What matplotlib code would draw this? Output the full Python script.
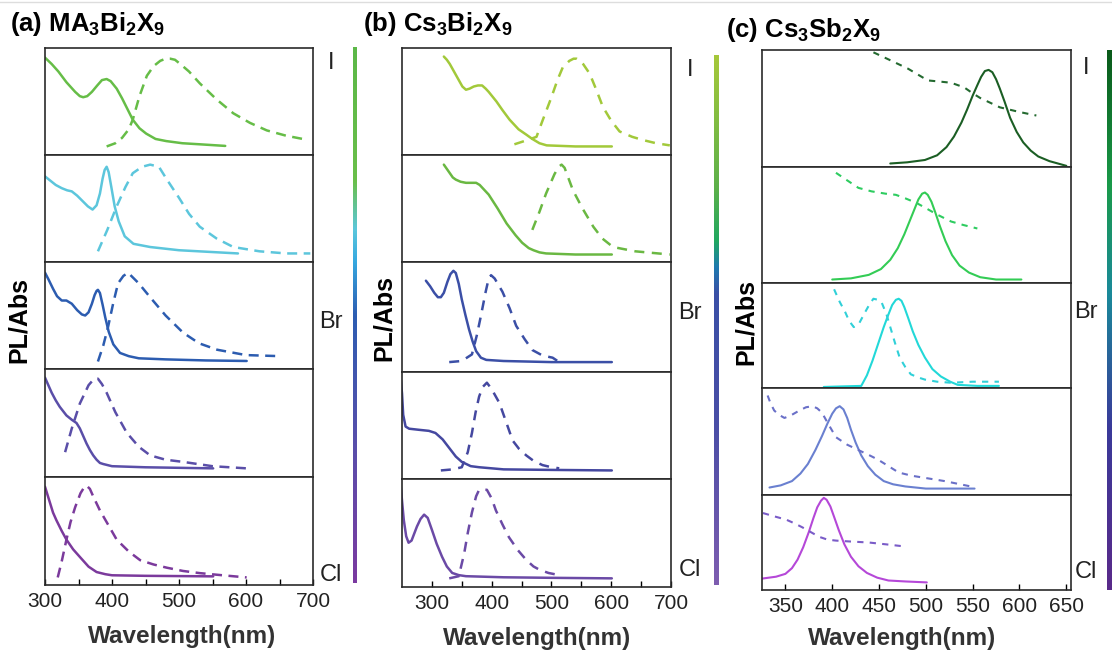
import matplotlib.pyplot as plt
import numpy as np
from matplotlib.colors import LinearSegmentedColormap
from matplotlib.lines import Line2D

plt.rcParams['font.family'] = ['Liberation Sans', 'DejaVu Sans']
plt.rcParams['mathtext.fontset'] = 'custom'
plt.rcParams['mathtext.rm'] = 'Liberation Sans'
plt.rcParams['mathtext.bf'] = 'Liberation Sans:bold'

# ---- (a) MA3Bi2X9 : solid = absorption, dashed = PL ----
a_I_abs_nm = [300, 310, 320, 332, 345, 352, 357, 363, 370, 378, 385, 392, 398, 407, 415, 423, 431, 441, 451, 465, 481, 505, 531, 569]
a_I_abs = [0.91, 0.85, 0.78, 0.68, 0.59, 0.55, 0.54, 0.55, 0.59, 0.65, 0.70, 0.71, 0.69, 0.62, 0.53, 0.43, 0.33, 0.25, 0.20, 0.15, 0.13, 0.11, 0.10, 0.085]
a_I_pl_nm = [392, 405, 415, 425, 431, 441, 452, 462, 472, 480, 487, 494, 502, 515, 531, 556, 581, 606, 631, 660, 693]
a_I_pl = [0.08, 0.11, 0.16, 0.24, 0.33, 0.55, 0.74, 0.83, 0.88, 0.90, 0.90, 0.89, 0.85, 0.78, 0.67, 0.52, 0.39, 0.30, 0.23, 0.18, 0.14]

a_Br1_abs_nm = [300, 308, 316, 325, 333, 340, 348, 356, 364, 371, 377, 382, 386, 389, 392, 395, 399, 404, 410, 419, 432, 457, 500, 588]
a_Br1_abs = [0.80, 0.76, 0.72, 0.69, 0.67, 0.66, 0.62, 0.57, 0.52, 0.49, 0.53, 0.64, 0.78, 0.86, 0.89, 0.84, 0.70, 0.52, 0.38, 0.24, 0.17, 0.14, 0.11, 0.08]
a_Br1_pl_nm = [379, 393, 407, 420, 431, 445, 457, 470, 482, 500, 515, 531, 556, 581, 620, 660, 696]
a_Br1_pl = [0.10, 0.30, 0.52, 0.70, 0.83, 0.89, 0.91, 0.89, 0.77, 0.60, 0.45, 0.33, 0.22, 0.14, 0.10, 0.08, 0.08]

a_Br_abs_nm = [300, 305, 312, 318, 325, 332, 340, 348, 355, 360, 365, 370, 374, 377, 379, 382, 386, 390, 395, 402, 412, 425, 440, 480, 540, 601]
a_Br_abs = [0.90, 0.84, 0.75, 0.68, 0.64, 0.64, 0.61, 0.55, 0.51, 0.50, 0.53, 0.61, 0.69, 0.73, 0.74, 0.71, 0.60, 0.48, 0.35, 0.23, 0.15, 0.12, 0.10, 0.09, 0.08, 0.075]
a_Br_pl_nm = [379, 387, 394, 402, 409, 417, 424, 440, 457, 480, 506, 530, 557, 600, 651]
a_Br_pl = [0.07, 0.22, 0.39, 0.62, 0.80, 0.87, 0.90, 0.80, 0.67, 0.50, 0.34, 0.24, 0.18, 0.13, 0.12]

a_Cl1_abs_nm = [300, 305, 310, 316, 322, 332, 340, 347, 352, 357, 362, 367, 372, 377, 382, 387, 400, 450, 551]
a_Cl1_abs = [0.92, 0.85, 0.78, 0.71, 0.65, 0.57, 0.53, 0.50, 0.45, 0.38, 0.31, 0.25, 0.20, 0.16, 0.13, 0.12, 0.10, 0.09, 0.08]
a_Cl1_pl_nm = [330, 340, 352, 365, 372, 379, 385, 392, 405, 422, 440, 457, 480, 506, 550, 601]
a_Cl1_pl = [0.23, 0.45, 0.68, 0.85, 0.90, 0.91, 0.86, 0.78, 0.60, 0.41, 0.28, 0.20, 0.16, 0.14, 0.10, 0.08]

a_Cl_abs_nm = [300, 304, 308, 312, 317, 325, 332, 342, 352, 365, 377, 390, 400, 450, 551]
a_Cl_abs = [0.91, 0.83, 0.75, 0.67, 0.60, 0.50, 0.42, 0.33, 0.26, 0.17, 0.12, 0.10, 0.09, 0.085, 0.08]
a_Cl_pl_nm = [319, 325, 332, 338, 345, 353, 358, 362, 367, 372, 382, 395, 407, 425, 442, 462, 482, 506, 531, 565, 601]
a_Cl_pl = [0.07, 0.22, 0.42, 0.58, 0.72, 0.85, 0.90, 0.92, 0.89, 0.82, 0.69, 0.55, 0.42, 0.31, 0.23, 0.19, 0.16, 0.13, 0.11, 0.09, 0.07]

# ---- (b) Cs3Bi2X9 ----
b_I_abs_nm = [320, 325, 330, 338, 345, 351, 357, 363, 370, 377, 384, 390, 395, 408, 418, 430, 445, 458, 468, 480, 492, 540, 601]
b_I_abs = [0.92, 0.89, 0.85, 0.77, 0.70, 0.64, 0.61, 0.62, 0.64, 0.65, 0.65, 0.62, 0.59, 0.50, 0.42, 0.33, 0.24, 0.19, 0.15, 0.11, 0.09, 0.08, 0.08]
b_I_pl_nm = [438, 460, 475, 485, 500, 510, 519, 530, 537, 542, 548, 553, 564, 575, 586, 600, 614, 635, 653, 675, 698]
b_I_pl = [0.10, 0.14, 0.17, 0.32, 0.54, 0.70, 0.82, 0.88, 0.90, 0.90, 0.88, 0.85, 0.76, 0.61, 0.45, 0.32, 0.22, 0.17, 0.14, 0.11, 0.09]

b_Br1_abs_nm = [320, 325, 330, 335, 340, 348, 357, 366, 374, 380, 385, 395, 410, 425, 440, 451, 462, 470, 480, 491, 540, 601]
b_Br1_abs = [0.91, 0.87, 0.83, 0.79, 0.77, 0.75, 0.74, 0.74, 0.74, 0.72, 0.69, 0.63, 0.50, 0.36, 0.25, 0.18, 0.13, 0.11, 0.09, 0.08, 0.07, 0.07]
b_Br1_pl_nm = [468, 480, 491, 505, 512, 517, 522, 526, 536, 552, 570, 585, 603, 640, 698]
b_Br1_pl = [0.30, 0.47, 0.64, 0.82, 0.89, 0.91, 0.88, 0.82, 0.67, 0.50, 0.33, 0.22, 0.14, 0.10, 0.07]

b_Br_abs_nm = [290, 297, 304, 310, 315, 320, 326, 331, 336, 340, 345, 350, 356, 362, 368, 374, 382, 391, 420, 500, 601]
b_Br_abs = [0.83, 0.78, 0.72, 0.68, 0.68, 0.72, 0.82, 0.89, 0.92, 0.90, 0.80, 0.66, 0.52, 0.39, 0.28, 0.19, 0.13, 0.11, 0.10, 0.09, 0.09]
b_Br_pl_nm = [329, 350, 367, 375, 382, 390, 395, 399, 405, 418, 430, 441, 455, 468, 485, 502, 513]
b_Br_pl = [0.09, 0.10, 0.16, 0.33, 0.51, 0.73, 0.85, 0.88, 0.85, 0.73, 0.58, 0.42, 0.30, 0.20, 0.15, 0.13, 0.09]

b_Cl1_abs_nm = [248, 250, 252, 256, 262, 278, 295, 306, 318, 329, 340, 350, 365, 379, 420, 500, 601]
b_Cl1_abs = [0.93, 0.80, 0.60, 0.49, 0.47, 0.46, 0.45, 0.43, 0.37, 0.29, 0.21, 0.16, 0.12, 0.11, 0.09, 0.085, 0.08]
b_Cl1_pl_nm = [315, 335, 350, 360, 367, 373, 379, 385, 392, 400, 413, 425, 435, 446, 458, 470, 485, 500, 513]
b_Cl1_pl = [0.08, 0.09, 0.11, 0.25, 0.43, 0.62, 0.77, 0.86, 0.90, 0.84, 0.71, 0.52, 0.36, 0.28, 0.22, 0.17, 0.13, 0.11, 0.10]

b_Cl_abs_nm = [248, 250, 253, 257, 261, 266, 275, 281, 287, 293, 300, 308, 317, 325, 334, 345, 357, 420, 500, 601]
b_Cl_abs = [0.93, 0.80, 0.62, 0.47, 0.41, 0.43, 0.56, 0.63, 0.67, 0.64, 0.53, 0.40, 0.28, 0.19, 0.13, 0.11, 0.10, 0.09, 0.085, 0.08]
b_Cl_pl_nm = [329, 345, 354, 360, 367, 374, 379, 392, 400, 407, 418, 429, 444, 458, 470, 480, 495, 513]
b_Cl_pl = [0.08, 0.10, 0.31, 0.50, 0.69, 0.84, 0.90, 0.90, 0.82, 0.71, 0.58, 0.46, 0.34, 0.25, 0.19, 0.16, 0.13, 0.11]

# ---- (c) Cs3Sb2X9 : solid = PL, dashed = absorption ----
c_I_pl_nm = [462, 480, 499, 512, 522, 530, 538, 544, 550, 555, 559, 563, 567, 571, 575, 579, 584, 590, 597, 604, 612, 620, 632, 650]
c_I_pl = [0.03, 0.04, 0.06, 0.10, 0.17, 0.26, 0.38, 0.49, 0.61, 0.70, 0.77, 0.82, 0.83, 0.81, 0.75, 0.67, 0.56, 0.42, 0.30, 0.21, 0.14, 0.09, 0.05, 0.01]
c_I_abs_nm = [444, 460, 481, 502, 515, 527, 541, 550, 558, 579, 600, 618]
c_I_abs = [0.98, 0.92, 0.84, 0.74, 0.73, 0.72, 0.68, 0.63, 0.59, 0.51, 0.47, 0.44]

c_Br1_pl_nm = [400, 420, 439, 452, 462, 470, 477, 483, 488, 492, 496, 499, 502, 506, 510, 515, 521, 528, 536, 546, 558, 575, 602]
c_Br1_pl = [0.03, 0.04, 0.07, 0.12, 0.20, 0.30, 0.42, 0.54, 0.64, 0.72, 0.77, 0.78, 0.76, 0.70, 0.61, 0.49, 0.36, 0.24, 0.15, 0.09, 0.05, 0.03, 0.03]
c_Br1_abs_nm = [404, 415, 428, 442, 457, 468, 478, 490, 499, 512, 527, 540, 555]
c_Br1_abs = [0.95, 0.89, 0.82, 0.79, 0.77, 0.76, 0.73, 0.69, 0.65, 0.59, 0.53, 0.50, 0.47]

c_Br_pl_nm = [391, 410, 431, 437, 443, 449, 455, 460, 464, 468, 471, 474, 477, 481, 486, 492, 499, 507, 516, 526, 534, 555, 578]
c_Br_pl = [0.01, 0.015, 0.02, 0.12, 0.26, 0.42, 0.58, 0.70, 0.79, 0.84, 0.85, 0.83, 0.77, 0.67, 0.54, 0.41, 0.29, 0.18, 0.11, 0.06, 0.03, 0.02, 0.02]
c_Br_abs_nm = [402, 408, 414, 418, 423, 429, 435, 440, 444, 449, 453, 458, 462, 467, 472, 478, 484, 492, 499, 512, 527, 550, 578]
c_Br_abs = [0.94, 0.82, 0.72, 0.64, 0.58, 0.62, 0.72, 0.80, 0.85, 0.84, 0.81, 0.70, 0.58, 0.43, 0.29, 0.20, 0.13, 0.10, 0.08, 0.06, 0.05, 0.06, 0.06]

c_Cl1_pl_nm = [333, 345, 357, 366, 374, 382, 389, 395, 400, 404, 408, 412, 416, 420, 425, 431, 438, 446, 455, 465, 478, 500, 552]
c_Cl1_pl = [0.07, 0.09, 0.13, 0.20, 0.29, 0.42, 0.55, 0.67, 0.76, 0.81, 0.83, 0.80, 0.72, 0.61, 0.49, 0.37, 0.27, 0.19, 0.13, 0.10, 0.08, 0.06, 0.06]
c_Cl1_abs_nm = [331, 334, 338, 343, 349, 357, 365, 372, 379, 384, 389, 396, 404, 416, 428, 440, 449, 460, 471, 485, 499, 520, 548]
c_Cl1_abs = [0.93, 0.86, 0.79, 0.75, 0.72, 0.75, 0.79, 0.82, 0.83, 0.81, 0.77, 0.66, 0.54, 0.47, 0.42, 0.37, 0.33, 0.27, 0.21, 0.18, 0.16, 0.13, 0.08]

c_Cl_pl_nm = [325, 340, 350, 357, 363, 369, 375, 380, 384, 388, 391, 394, 398, 402, 407, 413, 420, 428, 437, 448, 460, 478, 501]
c_Cl_pl = [0.12, 0.14, 0.17, 0.23, 0.32, 0.45, 0.61, 0.76, 0.87, 0.94, 0.97, 0.95, 0.88, 0.77, 0.63, 0.48, 0.35, 0.25, 0.18, 0.13, 0.10, 0.09, 0.08]
c_Cl_abs_nm = [326, 340, 351, 360, 368, 377, 386, 395, 404, 420, 439, 458, 476]
c_Cl_abs = [0.81, 0.77, 0.74, 0.70, 0.66, 0.61, 0.56, 0.53, 0.52, 0.51, 0.50, 0.48, 0.46]

titles = [r'(a) MA$_\mathbf{3}$Bi$_\mathbf{2}$X$_\mathbf{9}$',
          r'(b) Cs$_\mathbf{3}$Bi$_\mathbf{2}$X$_\mathbf{9}$',
          r'(c) Cs$_\mathbf{3}$Sb$_\mathbf{2}$X$_\mathbf{9}$']
halides = ['I', 'Br', 'Cl']

W, H = 1112, 653
fig = plt.figure(figsize=(W / 100, H / 100), dpi=100)


def box(l, t, r, b):
    return fig.add_axes([l / W, 1 - b / H, (r - l) / W, (b - t) / H])


def draw_panel(xl, xr, rows, xlim, majors, minors, curves, lw, solid_dash):
    for i, (sx, sy, dx, dy, cs, cd) in enumerate(curves):
        ax = box(xl, rows[i], xr, rows[i + 1])
        ax.plot(sx, sy, color=cs, lw=lw, solid_joinstyle='round', solid_capstyle='round')
        ax.plot(dx, dy, color=cd, lw=lw, dashes=solid_dash)
        ax.set_xlim(*xlim)
        ax.set_ylim(0, 1)
        ax.set_yticks([])
        for s in ax.spines.values():
            s.set_linewidth(1.2)
            s.set_color('#2a2a2a')
        if i == len(curves) - 1:
            ax.set_xticks(majors)
            ax.set_xticks(minors, minor=True)
            ax.tick_params(axis='x', which='both', direction='in', length=4,
                           width=1, pad=5, labelsize=15, labelcolor='#222222')
        else:
            ax.set_xticks([])
    return ax


# panel (a)
draw_panel(45, 313, [48, 155, 262, 369, 477, 585], (300, 700),
           [300, 400, 500, 600, 700], [350, 450, 550, 650],
           [(a_I_abs_nm, a_I_abs, a_I_pl_nm, a_I_pl, '#66bd47', '#66bd47'),
            (a_Br1_abs_nm, a_Br1_abs, a_Br1_pl_nm, a_Br1_pl, '#5cc6dc', '#5cc6dc'),
            (a_Br_abs_nm, a_Br_abs, a_Br_pl_nm, a_Br_pl, '#2c5cb0', '#2c5cb0'),
            (a_Cl1_abs_nm, a_Cl1_abs, a_Cl1_pl_nm, a_Cl1_pl, '#5a4ea8', '#5a4ea8'),
            (a_Cl_abs_nm, a_Cl_abs, a_Cl_pl_nm, a_Cl_pl, '#7b3a9c', '#7b3a9c')],
           1.8, (4, 2.6))

# panel (b)
draw_panel(402, 671, [48, 155, 262, 372, 479, 587], (250, 700),
           [300, 400, 500, 600, 700], [350, 450, 550, 650],
           [(b_I_abs_nm, b_I_abs, b_I_pl_nm, b_I_pl, '#a2c93a', '#a2c93a'),
            (b_Br1_abs_nm, b_Br1_abs, b_Br1_pl_nm, b_Br1_pl, '#6ab842', '#6ab842'),
            (b_Br_abs_nm, b_Br_abs, b_Br_pl_nm, b_Br_pl, '#3b4fa6', '#3b4fa6'),
            (b_Cl1_abs_nm, b_Cl1_abs, b_Cl1_pl_nm, b_Cl1_pl, '#4548a0', '#4548a0'),
            (b_Cl_abs_nm, b_Cl_abs, b_Cl_pl_nm, b_Cl_pl, '#6b4aa6', '#6b4aa6')],
           1.8, (4, 3))

# panel (c)
draw_panel(762, 1071, [50, 167, 283, 388, 495, 590], (325, 655),
           [350, 400, 450, 500, 550, 600, 650], [],
           [(c_I_pl_nm, c_I_pl, c_I_abs_nm, c_I_abs, '#1b5e24', '#246a30'),
            (c_Br1_pl_nm, c_Br1_pl, c_Br1_abs_nm, c_Br1_abs, '#33cc55', '#2ecc60'),
            (c_Br_pl_nm, c_Br_pl, c_Br_abs_nm, c_Br_abs, '#22d8d8', '#30d0d8'),
            (c_Cl1_pl_nm, c_Cl1_pl, c_Cl1_abs_nm, c_Cl1_abs, '#6a80d0', '#6a70c8'),
            (c_Cl_pl_nm, c_Cl_pl, c_Cl_abs_nm, c_Cl_abs, '#b548d8', '#7a5cc8')],
           1.5, (3, 3))

# colour bars
bars = [
    (353, 357, 47, 583, [(0, '#7b3aa0'), (0.25, '#5a4eaa'), (0.5, '#2d5db2'), (0.6, '#36a8e0'),
                         (0.66, '#5bc7dc'), (0.75, '#6abf4a'), (1, '#5cb848')]),
    (714, 719, 55, 585, [(0, '#7e5db0'), (0.3, '#4a4ea6'), (0.55, '#3a50a6'), (0.6, '#1e7ab0'),
                         (0.65, '#20a860'), (0.75, '#5cb04a'), (1, '#a6c83a')]),
    (1107, 1116, 50, 590, [(0, '#5a2a8a'), (0.3, '#3a3a9a'), (0.55, '#1a8a9a'),
                           (0.75, '#1a9a4a'), (1, '#0a5a1a')]),
]
for l, r, t, b, nodes in bars:
    cax = box(l, t, r, b)
    cmap = LinearSegmentedColormap.from_list('bar', nodes)
    cax.imshow(np.linspace(1, 0, 256)[:, None], aspect='auto', cmap=cmap,
               extent=(0, 1, 0, 1))
    cax.set_axis_off()

# halide labels
for x, ys in [(331, (63, 322, 575)), (690, (70, 313, 570)), (1086, (68, 312, 572))]:
    for lab, y in zip(halides, ys):
        fig.text(x / W, 1 - y / H, lab, fontsize=17, ha='center', va='center', color='#222222')

# titles and axis labels
for x, y, t in zip([10, 363, 726], [24, 24, 30], titles):
    fig.text(x / W, 1 - y / H, t, fontsize=18.5, fontweight='bold', ha='left', va='center')
for x, y in [(19, 320), (384, 318), (746, 322)]:
    fig.text(x / W, 1 - y / H, 'PL/Abs', fontsize=18, fontweight='bold', rotation=90,
             ha='center', va='center')
for x, y in [(182, 636), (537, 638), (902, 638)]:
    fig.text(x / W, 1 - y / H, 'Wavelength(nm)', fontsize=17.5, fontweight='bold',
             ha='center', va='center', color='#333333')

fig.add_artist(Line2D([0, 1], [1 - 2 / H, 1 - 2 / H], color='#dddddd', lw=1))

fig.savefig('out.png', dpi=100)
